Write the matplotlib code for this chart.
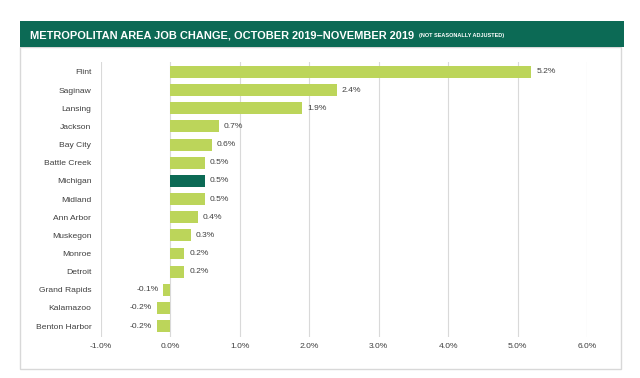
import matplotlib
matplotlib.use("Agg")
import matplotlib.pyplot as plt
from matplotlib.patches import Rectangle
from matplotlib.ticker import FuncFormatter

areas = ["Flint", "Saginaw", "Lansing", "Jackson", "Bay City", "Battle Creek",
         "Michigan", "Midland", "Ann Arbor", "Muskegon", "Monroe", "Detroit",
         "Grand Rapids", "Kalamazoo", "Benton Harbor"]
changes = [5.2, 2.4, 1.9, 0.7, 0.6, 0.5, 0.5, 0.5, 0.4, 0.3, 0.2, 0.2, -0.1, -0.2, -0.2]
highlight = "Michigan"
xticks = [-1, 0, 1, 2, 3, 4, 5, 6]

light = "#bcd55a"
dark = "#0c6a55"

fig = plt.figure(figsize=(6.4, 3.78), dpi=100)
fig.patch.set_facecolor("white")

# outer frame and header band
W, H = 640, 378
fig.patches.append(Rectangle((20 / W, 1 - 369 / H), (621 - 20) / W, (369 - 47) / H,
                             transform=fig.transFigure, facecolor="none",
                             edgecolor="#d8d8d8", linewidth=1.0, zorder=-5))
fig.patches.append(Rectangle((20 / W, 1 - 47 / H), (624 - 20) / W, (47 - 21) / H,
                             transform=fig.transFigure, facecolor=dark,
                             edgecolor="none", zorder=-4))
fig.text(30 / W, 1 - 35 / H, "METROPOLITAN AREA JOB CHANGE, OCTOBER 2019\u2013NOVEMBER 2019",
         color="white", fontsize=7.95, fontweight="bold", va="center", ha="left",
         family="Liberation Sans")
fig.text(419 / W, 1 - 35.5 / H, "(NOT SEASONALLY ADJUSTED)", color="white", fontsize=4.0,
         fontweight="bold", va="center", ha="left", family="Liberation Sans")

ax = fig.add_axes([101 / W, 1 - 337 / H, (587 - 101) / W, (337 - 62) / H])
ax.set_zorder(2)
ax.patch.set_alpha(0)
ypos = list(range(len(areas)))
colors = [dark if a == highlight else light for a in areas]
ax.barh(ypos, changes, height=0.66, color=colors, zorder=3)
ax.set_ylim(len(areas) - 0.4, -0.55)
ax.set_xlim(-1, 6)
ax.set_xticks(xticks)
ax.xaxis.set_major_formatter(FuncFormatter(lambda v, p: f"{v:.1f}%"))
ax.set_yticks(ypos)
ax.set_yticklabels(areas)
ax.grid(axis="x", color="#d9d9d9", linewidth=0.8, zorder=0)
for s in ax.spines.values():
    s.set_visible(False)
ax.tick_params(axis="both", length=0, labelsize=6.1, colors="#404040")
ax.tick_params(axis="y", pad=7)
ax.tick_params(axis="x", pad=4)
for lab in ax.get_xticklabels() + ax.get_yticklabels():
    lab.set_family("Liberation Sans")

for y, v in zip(ypos, changes):
    if v >= 0:
        ax.text(v + 0.07, y, f"{v:.1f}%", va="center", ha="left", fontsize=6.1,
                color="#404040", family="Liberation Sans")
    else:
        ax.text(v - 0.07, y, f"{v:.1f}%", va="center", ha="right", fontsize=6.1,
                color="#404040", family="Liberation Sans")

fig.savefig("out.png", dpi=100, facecolor="white")
